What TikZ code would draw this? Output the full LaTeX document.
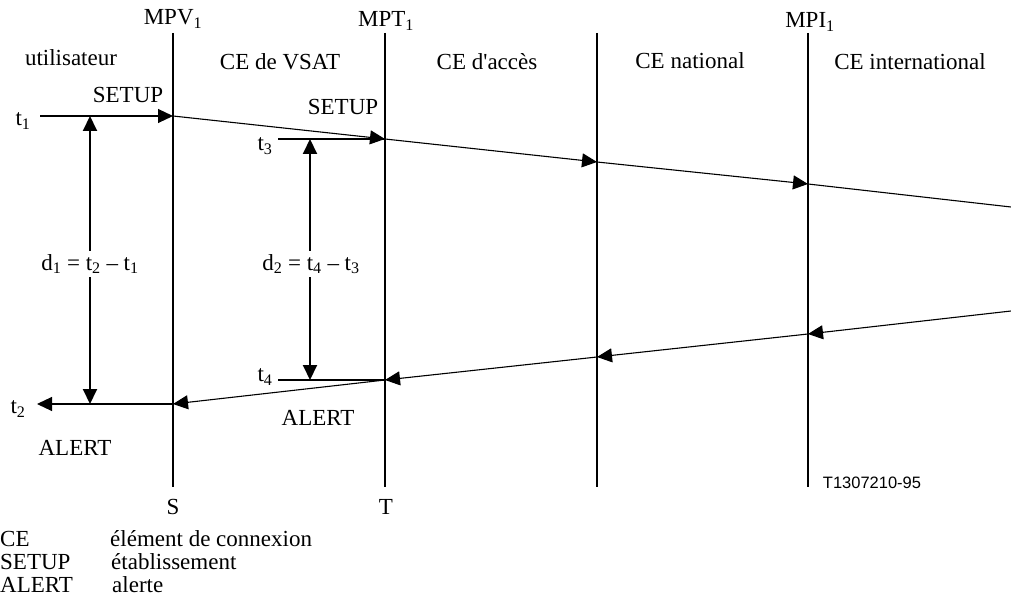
\documentclass[tikz,border=0pt]{standalone}
\usepackage{fontspec}
\setmainfont{Liberation Serif}
\newfontfamily\codefont{Liberation Sans}
\usetikzlibrary{arrows.meta}
\begin{document}
\begin{tikzpicture}[x=1pt,y=-1pt,
  lifeline/.style={line width=2pt},
  msg/.style={line width=1.1pt,-{Triangle[length=15pt,width=14pt]}},
  msgplain/.style={line width=1.1pt},
  tick/.style={line width=2pt},
  delay/.style={line width=2pt,{Triangle[length=15pt,width=14pt]}-{Triangle[length=15pt,width=14pt]}},
  lbl/.style={inner sep=1pt,font=\fontsize{23}{27}\selectfont},
  dlbl/.style={lbl,fill=white,inner sep=3pt}]
\useasboundingbox (0,0) rectangle (1011,609);
% lifelines
\coordinate (v1t) at (173,33); \coordinate (v1b) at (173,487);
\coordinate (v2t) at (385,33); \coordinate (v2b) at (385,487);
\coordinate (v3t) at (597,33); \coordinate (v3b) at (597,487);
\coordinate (v4t) at (808,33); \coordinate (v4b) at (808,487);
\draw[lifeline] (v1t) -- (v1b);
\draw[lifeline] (v2t) -- (v2b);
\draw[lifeline] (v3t) -- (v3b);
\draw[lifeline] (v4t) -- (v4b);
% top labels
\node[lbl] (mpv) at (173,19) {MPV\textsubscript{1}};
\node[lbl] (mpt) at (386,21) {MPT\textsubscript{1}};
\node[lbl] (mpi) at (810,22) {MPI\textsubscript{1}};
\node[lbl] (usr) at (71,58) {utilisateur};
\node[lbl] (cev) at (280,62) {CE de VSAT};
\node[lbl] (cea) at (487,62) {CE d\textquotesingle accès};
\node[lbl] (cen) at (690,61) {CE national};
\node[lbl] (cei) at (910,62) {CE international};
% SETUP path
\coordinate (t1s) at (40,116);
\coordinate (a1) at (173,116);
\coordinate (a2) at (385,139);
\coordinate (a3) at (597,162);
\coordinate (a4) at (808,184);
\coordinate (a5) at (1011,207);
\draw[msg] (t1s) -- (a1);
\draw[msg] (a1) -- (a2);
\draw[msg] (a2) -- (a3);
\draw[msg] (a3) -- (a4);
\draw[msgplain] (a4) -- (a5);
% ALERT path
\coordinate (b5) at (1011,311);
\coordinate (b4) at (808,334);
\coordinate (b3) at (597,357);
\coordinate (b2) at (385,380);
\coordinate (b1) at (173,404);
\coordinate (t2e) at (37,404);
\draw[msg] (b5) -- (b4);
\draw[msg] (b4) -- (b3);
\draw[msg] (b3) -- (b2);
\draw[msg] (b2) -- (b1);
\draw[msg] (b1) -- (t2e);
% t3, t4 ticks
\coordinate (t3s) at (278,139);
\coordinate (t4s) at (278,380);
\draw[tick] (t3s) -- (a2);
\draw[tick] (t4s) -- (b2);
% delays
\coordinate (d1t) at (90,116); \coordinate (d1b) at (90,404);
\coordinate (d2t) at (310,139); \coordinate (d2b) at (310,380);
\draw[delay] (d1b) -- (d1t);
\draw[delay] (d2b) -- (d2t);
\node[dlbl] (d1) at (90,264) {d\textsubscript{1} = t\textsubscript{2} – t\textsubscript{1}};
\node[dlbl] (d2) at (311,264) {d\textsubscript{2} = t\textsubscript{4} – t\textsubscript{3}};
% time labels
\node[lbl] (lt1) at (23,121) {t\textsubscript{1}};
\node[lbl] (lt2) at (18,409) {t\textsubscript{2}};
\node[lbl] (lt3) at (265,146) {t\textsubscript{3}};
\node[lbl] (lt4) at (265,377) {t\textsubscript{4}};
\node[lbl] (su1) at (128,95) {SETUP};
\node[lbl] (su2) at (343,107) {SETUP};
\node[lbl] (al1) at (75,448) {ALERT};
\node[lbl] (al2) at (318,418) {ALERT};
\node[lbl] (ls) at (173,507) {S};
\node[lbl] (lt) at (386,507) {T};
\node[inner sep=0pt,font=\codefont\fontsize{16.5}{19}\selectfont] (ref) at (872,483) {T1307210-95};
% legend
\node[lbl,anchor=base west,inner sep=0pt] (k1) at (0,546) {CE};
\node[lbl,anchor=base west,inner sep=0pt] (v1) at (110,546) {élément de connexion};
\node[lbl,anchor=base west,inner sep=0pt] (k2) at (0,569) {SETUP};
\node[lbl,anchor=base west,inner sep=0pt] (v2) at (111,569) {établissement};
\node[lbl,anchor=base west,inner sep=0pt] (k3) at (0,592) {ALERT};
\node[lbl,anchor=base west,inner sep=0pt] (v3) at (112,592) {alerte};
\end{tikzpicture}
\end{document}
